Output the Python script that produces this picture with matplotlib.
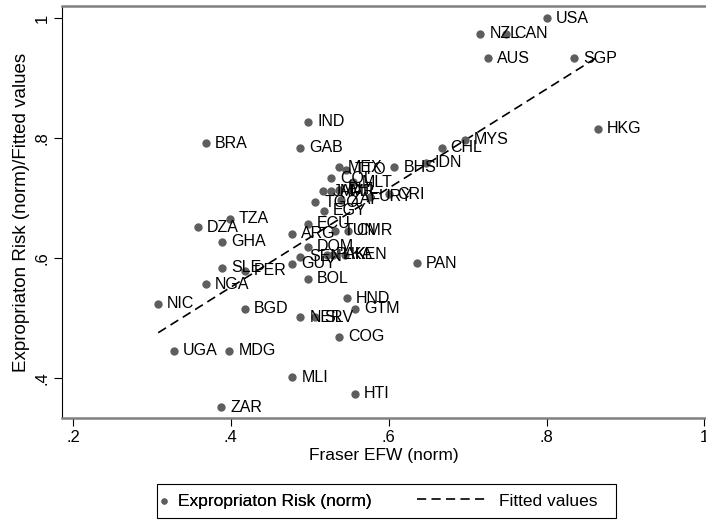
import numpy as np
import matplotlib.pyplot as plt
from matplotlib.patches import Rectangle

plt.rcParams['font.family'] = ['Liberation Sans', 'DejaVu Sans']

# country codes with Fraser EFW (x) and expropriation risk (y), both normalised
codes = ['USA', 'NZL', 'CAN', 'AUS', 'SGP', 'HKG', 'MYS', 'CHL', 'IDN', 'BHS',
         'IND', 'GAB', 'BRA', 'MEX', 'TTO', 'COL', 'MLT', 'JAM', 'MAR', 'PHL',
         'ZAF', 'URY', 'CRI', 'TGO', 'EGY', 'ECU', 'TUN', 'CMR', 'ARG', 'DOM',
         'SEN', 'PAK', 'LKA', 'KEN', 'GUY', 'BOL', 'PAN', 'TZA', 'DZA', 'GHA',
         'SLE', 'PER', 'NGA', 'NIC', 'BGD', 'HND', 'GTM', 'NER', 'SLV', 'COG',
         'UGA', 'MDG', 'MLI', 'HTI', 'ZAR']
efw = [0.800, 0.716, 0.748, 0.726, 0.835, 0.865, 0.696, 0.667, 0.647, 0.607,
       0.498, 0.488, 0.368, 0.537, 0.546, 0.527, 0.555, 0.517, 0.527, 0.537,
       0.540, 0.576, 0.600, 0.507, 0.518, 0.498, 0.532, 0.548, 0.478, 0.498,
       0.488, 0.522, 0.530, 0.545, 0.478, 0.498, 0.636, 0.399, 0.358, 0.389,
       0.389, 0.418, 0.368, 0.308, 0.418, 0.547, 0.557, 0.488, 0.507, 0.537,
       0.328, 0.398, 0.478, 0.557, 0.388]
risk = [1.000, 0.974, 0.974, 0.933, 0.933, 0.815, 0.797, 0.784, 0.759, 0.751,
        0.827, 0.784, 0.791, 0.751, 0.747, 0.733, 0.726, 0.711, 0.711, 0.714,
        0.697, 0.702, 0.706, 0.693, 0.679, 0.657, 0.645, 0.645, 0.640, 0.619,
        0.602, 0.605, 0.605, 0.605, 0.590, 0.565, 0.591, 0.665, 0.651, 0.627,
        0.584, 0.579, 0.556, 0.524, 0.515, 0.533, 0.515, 0.501, 0.501, 0.469,
        0.445, 0.445, 0.401, 0.374, 0.351]

x = np.array(efw)
y = np.array(risk)

# linear fit (Stata lfit)
b, a = np.polyfit(x, y, 1)
xf = np.array([x.min(), x.max()])
yf = a + b * xf

fig = plt.figure(figsize=(7.06, 5.23), dpi=100)
ax = fig.add_axes([0.0878, 0.2008, 0.9115, 0.7877])

pts = ax.scatter(x, y, s=36, color='#5e5e5e', zorder=3, linewidths=0)
ln, = ax.plot(xf, yf, color='black', linestyle=(0, (5.5, 3.2)), linewidth=1.2)
for c, xi, yi in zip(codes, x, y):
    ax.annotate(c, (xi, yi), xytext=(6.5, 0), textcoords='offset points',
                va='center', ha='left', fontsize=11.5, zorder=4)

ax.set_xlim(0.1861, 1.0013)
ax.set_ylim(0.3333, 1.02)
ax.set_xticks([0.2, 0.4, 0.6, 0.8, 1.0])
ax.set_xticklabels(['.2', '.4', '.6', '.8', '1'])
ax.set_yticks([0.4, 0.6, 0.8, 1.0])
ax.set_yticklabels(['.4', '.6', '.8', '1'], rotation=90, va='center')
ax.tick_params(labelsize=12, length=6, width=0.8, pad=3)
ax.set_xlabel('Fraser EFW (norm)', fontsize=12.5, labelpad=2)
ax.set_ylabel('Expropriaton Risk (norm)/Fitted values', fontsize=13.5, labelpad=3)

ax.spines['right'].set_visible(False)
ax.spines['top'].set_color('#808080')
ax.spines['top'].set_linewidth(1.8)
ax.spines['bottom'].set_color('#808080')
ax.spines['bottom'].set_linewidth(1.8)
ax.spines['left'].set_color('black')
ax.spines['left'].set_linewidth(0.8)

# legend: outer box plus two entries
fig.patches.append(Rectangle((0.2224, 0.0096), 0.6501, 0.065, transform=fig.transFigure,
                             fill=False, edgecolor='black', linewidth=0.8))
leg1 = fig.legend([pts], ['Expropriaton Risk (norm)'], loc='center left',
                  bbox_to_anchor=(0.2245, 0.0421), frameon=False, fontsize=12.5,
                  borderpad=0, borderaxespad=0, handlelength=0.6,
                  handletextpad=0.52, markerscale=0.75, scatterpoints=1)
leg2 = fig.legend([ln], ['Fitted values'], loc='center left',
                  bbox_to_anchor=(0.5907, 0.0421), frameon=False, fontsize=12.5,
                  borderpad=0, borderaxespad=0, handlelength=4.1,
                  handletextpad=0.63)
fig.add_artist(leg1)

fig.savefig('out.png', dpi=100)
